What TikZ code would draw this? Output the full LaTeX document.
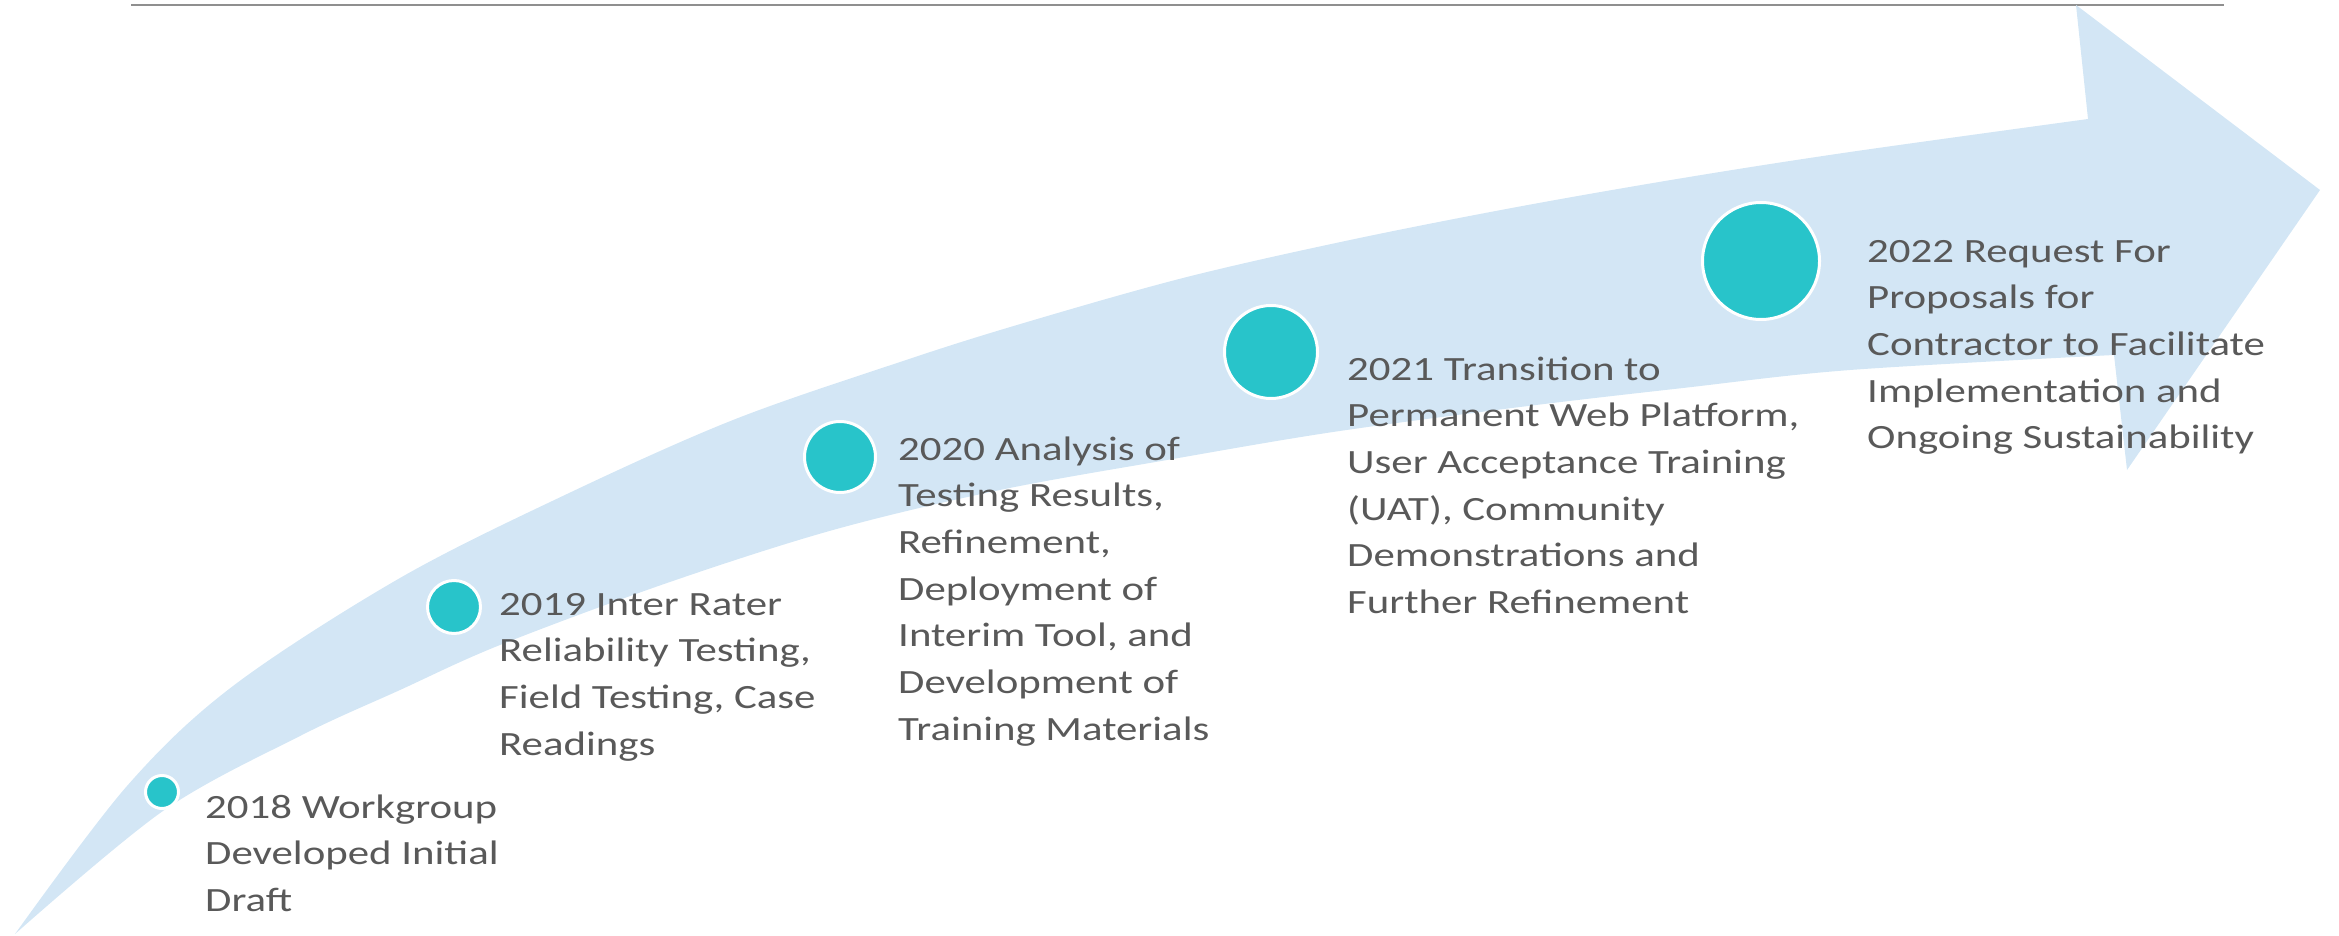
\documentclass[tikz,border=0pt]{standalone}
\usepackage{fontspec}
\setmainfont{Carlito}[FakeStretch=1.26]
\definecolor{bandblue}{HTML}{D3E6F5}
\definecolor{dotteal}{HTML}{28C4CA}
\definecolor{txtgray}{HTML}{595959}
\definecolor{rulegray}{HTML}{8F8F8F}
\begin{document}
\begin{tikzpicture}[x=1pt,y=-1pt,
  dotnode/.style={circle, fill=dotteal, draw=white, line width=3pt, inner sep=0pt, minimum size=#1},
  steplabel/.style={anchor=base west, inner sep=0pt, text=txtgray, font=\fontsize{34}{46.7}\selectfont}]
\useasboundingbox (0,0) rectangle (2339,936);
% top rule
\coordinate (ruleL) at (131,5);
\coordinate (ruleR) at (2224,5);
\draw[rulegray, line width=2pt] (ruleL) -- (ruleR);
% curved arrow band
\fill[bandblue]
  plot[smooth, tension=0.55] coordinates {(15,934) (127,786) (233,686) (400,578) (567,494) (733,420) (900,362) (1017,325) (1183,278) (1350,240) (1517,207) (1683,178) (1850,152) (2088,119)}
  -- (2076,5) -- (2320,190) -- (2127,470) -- (2114,355)
  -- plot[smooth, tension=0.55] coordinates {(2114,355) (1850,370) (1683,388) (1520,407) (1333,432) (1167,460) (1000,490) (833,530) (667,583) (500,645) (400,690) (300,736) (163,811) (15,934)}
  -- cycle;
% dots
\node[dotnode=33pt] (d18) at (162,792) {};
\node[dotnode=53pt] (d19) at (454,607) {};
\node[dotnode=71pt] (d20) at (840,457) {};
\node[dotnode=93pt] (d21) at (1271,352) {};
\node[dotnode=117pt] (d22) at (1761,261) {};
% labels
\node[steplabel] (t18) at (205,818) {\begin{tabular}[t]{@{}l@{}}2018 Workgroup\\Developed Initial\\Draft\end{tabular}};
\node[steplabel] (t19) at (499,615) {\begin{tabular}[t]{@{}l@{}}2019 Inter Rater\\Reliability Testing,\\Field Testing, Case\\Readings\end{tabular}};
\node[steplabel] (t20) at (898,460) {\begin{tabular}[t]{@{}l@{}}2020 Analysis of\\Testing Results,\\Refinement,\\Deployment of\\Interim Tool, and\\Development of\\Training Materials\end{tabular}};
\node[steplabel] (t21) at (1347,380) {\begin{tabular}[t]{@{}l@{}}2021 Transition to\\Permanent Web Platform,\\User Acceptance Training\\(UAT), Community\\Demonstrations and\\Further Refinement\end{tabular}};
\node[steplabel] (t22) at (1867,262) {\begin{tabular}[t]{@{}l@{}}2022 Request For\\Proposals for\\Contractor to Facilitate\\Implementation and\\Ongoing Sustainability\end{tabular}};
\end{tikzpicture}
\end{document}
